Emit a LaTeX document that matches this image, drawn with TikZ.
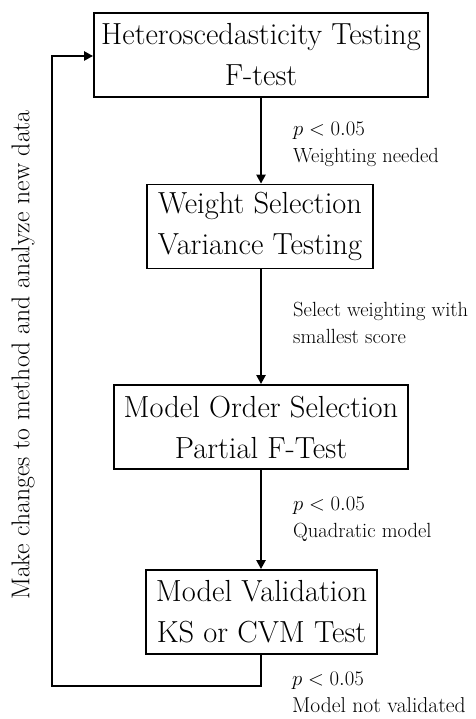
\documentclass[tikz,border=0pt]{standalone}
\usetikzlibrary{arrows.meta}
\begin{document}
\begin{tikzpicture}[x=1pt,y=-1pt,
  box/.style={draw,line width=1.8pt,align=center,inner sep=0pt,minimum height=84pt,font=\fontsize{30.5}{41}\selectfont},
  lbl/.style={anchor=north west,align=left,inner sep=0pt,font=\fontsize{20.5}{27}\selectfont},
  flow/.style={line width=2.8pt,-{Triangle[length=9pt,width=9pt]}}]
\useasboundingbox (0,0) rectangle (475,719);
\node[box,minimum width=334pt] (b1) at (261,55) {Heteroscedasticity Testing\\F-test};
\node[box,minimum width=226pt] (b2) at (260,226.5) {Weight Selection\\Variance Testing};
\node[box,minimum width=294pt] (b3) at (261,427) {Model Order Selection\\Partial F-Test};
\node[box,minimum width=231pt] (b4) at (261.5,612) {Model Validation\\KS or CVM Test};
\draw[flow] (b1.south -| 261,0) -- (b2.north -| 261,0);
\draw[flow] (b2.south -| 261,0) -- (b3.north -| 261,0);
\draw[flow] (b3.south -| 261,0) -- (b4.north -| 261,0);
\coordinate (c1) at (261,686);
\coordinate (c2) at (52,686);
\coordinate (c3) at (52,56);
\draw[flow,line join=miter] (b4.south -| 261,0) -- (c1) -- (c2) -- (c3) -- (c3 -| b1.west);
\node[lbl] (l1) at (293,122) {$p<0.05$\\Weighting needed};
\node[lbl] (l2) at (293,302) {Select weighting with\\smallest score};
\node[lbl] (l3) at (293,497) {$p<0.05$\\Quadratic model};
\node[lbl,font=\fontsize{21.5}{27}\selectfont] (l4) at (292,672) {$p<0.05$\\Model not validated};
\node[rotate=90,font=\fontsize{25.7}{28}\selectfont,inner sep=0pt] (rt) at (23,355) {Make changes to method and analyze new data};
\end{tikzpicture}
\end{document}
